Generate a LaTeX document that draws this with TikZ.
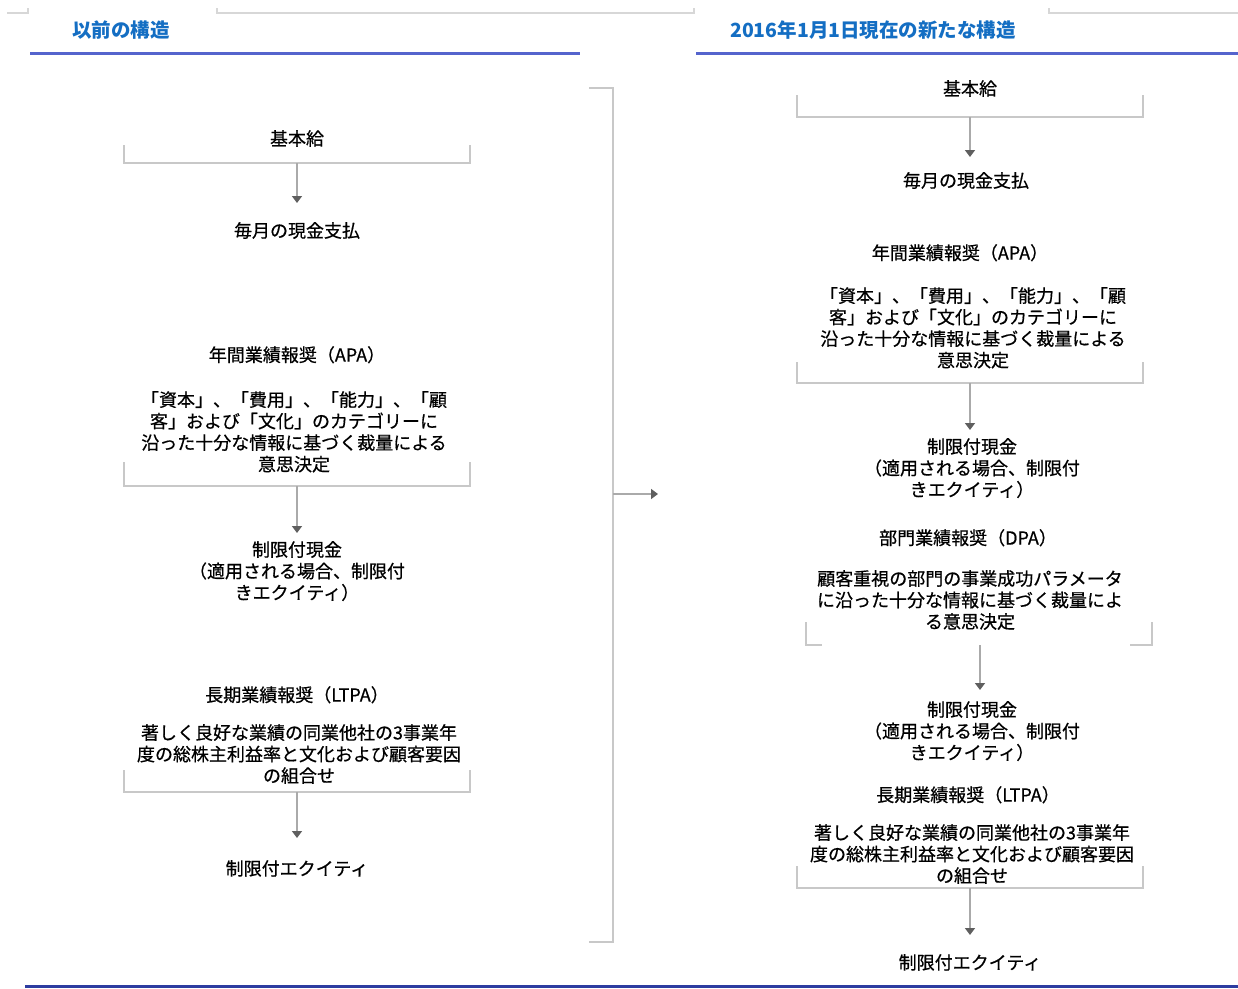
\documentclass[tikz,border=0pt]{standalone}
\usepackage{fontspec}
\setmainfont{Noto Sans CJK JP}
\newfontfamily\bodyjp[FakeBold=0.6]{Noto Sans CJK JP}
\usetikzlibrary{arrows.meta}
\definecolor{headblue}{RGB}{20,110,195}
\definecolor{ruleblue}{RGB}{85,100,205}
\definecolor{botblue}{RGB}{45,60,160}
\definecolor{brk}{RGB}{200,200,200}
\definecolor{topgray}{RGB}{215,215,215}
\definecolor{arrgray}{RGB}{170,170,170}
\definecolor{tipgray}{RGB}{95,95,95}
\begin{document}
\begin{tikzpicture}[x=1pt,y=-1pt,
  txt/.style={font=\bodyjp\fontsize{18}{21.5}\selectfont, align=center, inner sep=0pt, text=black, anchor=north},
  head/.style={font=\fontsize{19.5}{20}\selectfont\bfseries, text=headblue, inner sep=0pt, anchor=west},
  brkline/.style={draw=brk, line width=1.8pt},
  thin/.style={draw=topgray, line width=1.4pt},
  flow/.style={draw=arrgray, line width=1.6pt, -{Triangle[length=7pt,width=10pt,color=tipgray,fill=tipgray]}},
]
\useasboundingbox (0,0) rectangle (1238,988);
\fill[white] (0,0) rectangle (1238,988);

% top thin lines
\draw[thin] (7,13) -- (28,13) -- (28,8);
\draw[thin] (217,8) -- (217,13) -- (694,13) -- (694,8);
\draw[thin] (1049,8) -- (1049,13) -- (1238,13);

% headings and rules
\node[head] (hL) at (72,30) {以前の構造};
\node[head] (hR) at (730,30) {2016年1月1日現在の新たな構造};
\draw[ruleblue, line width=3pt] (30,53) -- (580,53);
\draw[ruleblue, line width=3pt] (696,53) -- (1238,53);
\draw[botblue, line width=3pt] (25,986) -- (1238,986);

% ---------- left column ----------
\node[txt] (bL) at (297,130) {基本給};
\node[txt] (mL) at (297,222) {毎月の現金支払};
\node[txt] (apaL) at (297,346) {年間業績報奨（APA）};
\node[txt] (apaDL) at (294,391) {「資本」、「費用」、「能力」、「顧\\客」および「文化」のカテゴリーに\\沿った十分な情報に基づく裁量による\\意思決定};
\node[txt] (rcL) at (297,541) {制限付現金\\（適用される場合、制限付\\きエクイティ）};
\node[txt] (ltpaL) at (297,686) {長期業績報奨（LTPA）};
\node[txt] (ltpaDL) at (299,724) {著しく良好な業績の同業他社の3事業年\\度の総株主利益率と文化および顧客要因\\の組合せ};
\node[txt] (reL) at (297,860) {制限付エクイティ};

\draw[brkline] (124,145) -- (124,163) -- (470,163) -- (470,145);
\draw[brkline] (124,462) -- (124,486) -- (470,486) -- (470,462);
\draw[brkline] (124,770) -- (124,792) -- (470,792) -- (470,770);
\coordinate (lb1) at (297,163);
\coordinate (lb2) at (297,486);
\coordinate (lb3) at (297,792);
\draw[flow, shorten >=19pt] (lb1) -- (lb1 |- mL.north);
\draw[flow, shorten >=8pt] (lb2) -- (lb2 |- rcL.north);
\draw[flow, shorten >=22pt] (lb3) -- (lb3 |- reL.north);

% ---------- big bracket ----------
\draw[brkline] (589,88) -- (613,88) -- (613,942) -- (589,942);
\coordinate (bigmid) at (613,494);
\coordinate (bigend) at (658,494);
\draw[flow] (bigmid) -- (bigend);

% ---------- right column ----------
\node[txt] (bR) at (970,80) {基本給};
\node[txt] (mR) at (966,172) {毎月の現金支払};
\node[txt] (apaR) at (960,244) {年間業績報奨（APA）};
\node[txt] (apaDR) at (973,287) {「資本」、「費用」、「能力」、「顧\\客」および「文化」のカテゴリーに\\沿った十分な情報に基づく裁量による\\意思決定};
\node[txt] (rcR1) at (972,438) {制限付現金\\（適用される場合、制限付\\きエクイティ）};
\node[txt] (dpaR) at (968,529) {部門業績報奨（DPA）};
\node[txt] (dpaDR) at (970,570) {顧客重視の部門の事業成功パラメータ\\に沿った十分な情報に基づく裁量によ\\る意思決定};
\node[txt] (rcR2) at (972,701) {制限付現金\\（適用される場合、制限付\\きエクイティ）};
\node[txt] (ltpaR) at (968,786) {長期業績報奨（LTPA）};
\node[txt] (ltpaDR) at (972,824) {著しく良好な業績の同業他社の3事業年\\度の総株主利益率と文化および顧客要因\\の組合せ};
\node[txt] (reR) at (970,954) {制限付エクイティ};

\draw[brkline] (797,95) -- (797,117) -- (1143,117) -- (1143,95);
\draw[brkline] (797,362) -- (797,383) -- (1143,383) -- (1143,362);
\draw[brkline] (806,622) -- (806,645) -- (822,645);
\draw[brkline] (1130,645) -- (1152,645) -- (1152,622);
\draw[brkline] (797,866) -- (797,888) -- (1143,888) -- (1143,866);
\coordinate (rb1) at (970,117);
\coordinate (rb2) at (970,383);
\coordinate (rb3) at (980,645);
\coordinate (rb4) at (970,888);
\draw[flow, shorten >=15pt] (rb1) -- (rb1 |- mR.north);
\draw[flow, shorten >=8pt] (rb2) -- (rb2 |- rcR1.north);
\draw[flow, shorten >=11pt] (rb3) -- (rb3 |- rcR2.north);
\draw[flow, shorten >=19pt] (rb4) -- (rb4 |- reR.north);
\end{tikzpicture}
\end{document}
